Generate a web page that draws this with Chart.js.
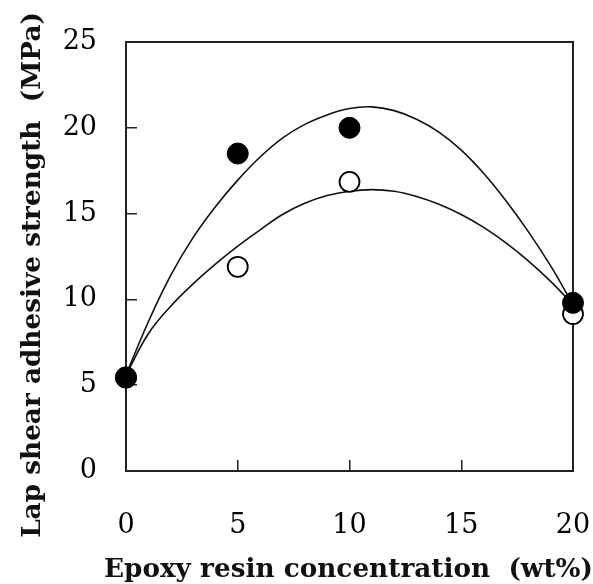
<!DOCTYPE html>
<html>
<head>
<meta charset="utf-8">
<script src="https://cdn.jsdelivr.net/npm/chart.js@4/dist/chart.umd.min.js"></script>
<style>
  html, body { margin: 0; padding: 0; background: #fff; }
  #wrap { width: 593px; height: 584px; }
</style>
</head>
<body>
<div id="wrap"><canvas id="adhesionChart" width="593" height="584"></canvas></div>
<script>
// Measured points (epoxy wt% vs lap shear strength, MPa)
const concentration = [0, 5, 10, 20];
const filledValues = [5.45, 18.5, 20.0, 9.8];
const openValues = [5.45, 11.9, 16.85, 9.15];

// Fitted curves at each 1 wt%
const curveX = [0, 1, 2, 3, 4, 5, 6, 7, 8, 9, 10, 11, 12, 13, 14, 15, 16, 17, 18, 19, 20];
const upperCurve = [5.6, 8.7, 11.4, 13.6, 15.4, 16.95, 18.3, 19.4, 20.2, 20.75, 21.12, 21.22, 21.0, 20.5, 19.75, 18.7, 17.35, 15.75, 13.95, 11.95, 9.7];
const lowerCurve = [5.6, 8.0, 9.6, 10.9, 12.05, 13.1, 14.05, 14.95, 15.6, 16.05, 16.3, 16.4, 16.3, 16.0, 15.55, 14.95, 14.2, 13.3, 12.25, 11.05, 9.7];

const xTicks = [0, 5, 10, 15, 20];
const yTicks = [0, 5, 10, 15, 20, 25];

const xTitle = 'Epoxy resin concentration  (wt%)';
const yTitle = 'Lap shear adhesive strength  (MPa)';

function toPoints(xs, ys) {
    return xs.map(function(x, i) { return {x: x, y: ys[i]}; });
}

// frame round the plot area (top and right sides too)
const frameBox = {
    id: 'frameBox',
    beforeDatasetsDraw(chart) {
        const a = chart.chartArea;
        const ctx = chart.ctx;
        ctx.save();
        ctx.strokeStyle = '#222';
        ctx.lineWidth = 2;
        ctx.strokeRect(a.left, a.top, a.right - a.left, a.bottom - a.top);
        ctx.restore();
    }
};

// axis titles drawn by hand so they are not squeezed to the plot width
const axisTitles = {
    id: 'axisTitles',
    afterDraw(chart) {
        const ctx = chart.ctx;
        const xs = chart.scales.x;
        ctx.save();
        ctx.fillStyle = '#111';
        ctx.font = "bold 26.3px 'DejaVu Serif', serif";
        ctx.textAlign = 'center';
        ctx.textBaseline = 'alphabetic';
        ctx.fillText(xTitle, (xs.left + xs.right) / 2 - 1, 576.5);

        ctx.translate(40, 275);
        ctx.rotate(-Math.PI / 2);
        ctx.fillText(yTitle, 0, 0);
        ctx.restore();
    }
};

const tickFont = {family: "'DejaVu Serif', serif", size: 27};

new Chart(document.getElementById('adhesionChart'), {
    type: 'scatter',
    data: {
        datasets: [
            {
                data: toPoints(concentration, filledValues),
                pointRadius: 10.5,
                pointBackgroundColor: '#000',
                pointBorderColor: '#000',
                pointBorderWidth: 1,
                clip: false
            },
            {
                data: toPoints(concentration, openValues),
                pointRadius: 10,
                pointBackgroundColor: '#fff',
                pointBorderColor: '#000',
                pointBorderWidth: 1.8,
                clip: false
            },
            {
                data: toPoints(curveX, upperCurve),
                showLine: true,
                pointRadius: 0,
                borderColor: '#111',
                borderWidth: 1.6,
                tension: 0.4
            },
            {
                data: toPoints(curveX, lowerCurve),
                showLine: true,
                pointRadius: 0,
                borderColor: '#111',
                borderWidth: 1.6,
                tension: 0.4
            }
        ]
    },
    options: {
        responsive: false,
        animation: false,
        layout: {padding: {top: 42, right: 20, left: 0, bottom: 0}},
        plugins: {legend: {display: false}, tooltip: {enabled: false}},
        scales: {
            x: {
                type: 'linear',
                min: 0,
                max: 20,
                afterFit: function(scale) {
                    scale.height = 113;
                    scale.paddingLeft = 0;
                    scale.paddingRight = 0;
                },
                afterBuildTicks: function(scale) { scale.ticks = xTicks.map(v => ({value: v})); },
                border: {display: false},
                grid: {drawOnChartArea: false, tickLength: -11, color: '#222', lineWidth: 1.5},
                ticks: {color: '#000', font: tickFont, padding: 50, maxRotation: 0},
                title: {display: false}
            },
            y: {
                min: 0,
                max: 25,
                afterFit: function(scale) {
                    scale.width = 126;
                    scale.paddingTop = 0;
                    scale.paddingBottom = 0;
                },
                afterBuildTicks: function(scale) { scale.ticks = yTicks.map(v => ({value: v})); },
                border: {display: false},
                grid: {drawOnChartArea: false, tickLength: -11, color: '#222', lineWidth: 1.5},
                ticks: {color: '#000', font: tickFont, padding: 40},
                title: {display: false}
            }
        }
    },
    plugins: [frameBox, axisTitles]
});
</script>
</body>
</html>
